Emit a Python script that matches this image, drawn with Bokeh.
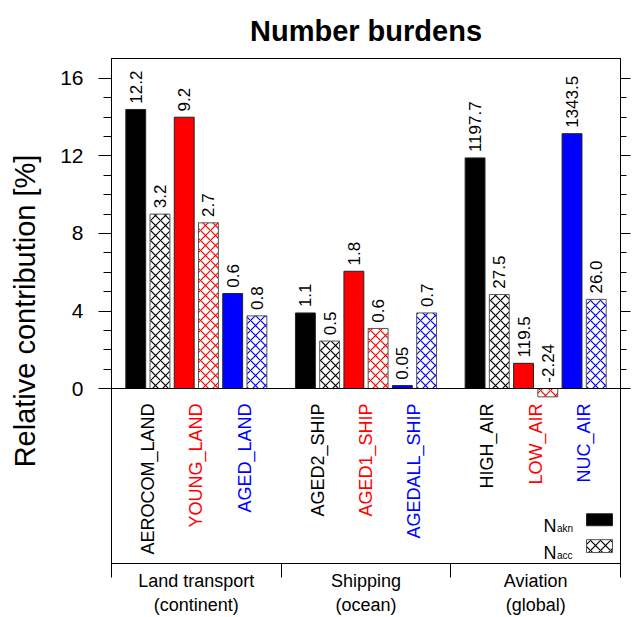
import math
from bokeh.plotting import figure
from bokeh.models import (Range1d, LinearAxis, FixedTicker, Span, Label,
                          ColumnDataSource)
from bokeh.core.properties import value
from bokeh.embed import file_html
from bokeh.resources import INLINE

# ---- data -------------------------------------------------------------
groups = ["Land transport", "Shipping", "Aviation"]
group_notes = ["(continent)", "(ocean)", "(global)"]
scenarios = ["AEROCOM_LAND", "YOUNG_LAND", "AGED_LAND",
             "AGED2_SHIP", "AGED1_SHIP", "AGEDALL_SHIP",
             "HIGH_AIR", "LOW_AIR", "NUC_AIR"]
scenario_colors = ["black", "red", "blue"] * 3

# relative contribution [%] of each scenario to the number burden
n_akn = [14.4, 14.0, 4.9, 3.9, 6.05, 0.15, 11.9, 1.3, 13.15]
n_acc = [9.0, 8.55, 3.75, 2.45, 3.1, 3.9, 4.85, -0.43, 4.6]

# numbers written above the bars
akn_labels = ["12.2", "9.2", "0.6", "1.1", "1.8", "0.05", "1197.7", "119.5", "1343.5"]
acc_labels = ["3.2", "2.7", "0.8", "0.5", "0.6", "0.7", "27.5", "-2.24", "26.0"]

y_ticks = [0, 4, 8, 12, 16]
y_minor = list(range(0, 17))

FONT = "Liberation Sans"

# ---- geometry ---------------------------------------------------------
W, H = 632, 617
L, R, T, B = 111, 12, 58, 51
Y_LO, Y_HI = -9.03, 17.03
X_LO, X_HI = 0, 21
XS = (W - L - R) / (X_HI - X_LO)
YS = (H - T - B) / (Y_HI - Y_LO)


def dx(px):
    return X_LO + (px - L) / XS


def dy(py):
    return Y_HI - (py - T) / YS


# bar slots: each group is 7 slots wide, akn/acc pairs side by side
slot = [7 * (i // 3) + 1 + 2 * (i % 3) for i in range(len(scenarios))]
x_akn = [s for s in slot]
x_acc = [s + 1 for s in slot]
x_pair = [s + 0.5 for s in slot]
group_mid = [7 * g + 3.5 for g in range(len(groups))]
group_edges = [7 * g for g in range(len(groups) + 1)]

p = figure(width=W, height=H, x_range=Range1d(X_LO, X_HI),
           y_range=Range1d(Y_LO, Y_HI), output_backend="svg",
           toolbar_location=None, x_axis_location=None, y_axis_location=None,
           min_border_left=L, min_border_right=R, min_border_top=T,
           min_border_bottom=B)
p.grid.visible = False
p.outline_line_color = "black"
p.outline_line_width = 1
p.background_fill_color = "white"
p.border_fill_color = "white"

p.title.text = "Number burdens"
p.title.align = "center"
p.title.text_font = FONT
p.title.text_font_size = "29px"
p.title.text_font_style = "bold"
p.title.text_color = "black"
p.title.standoff = 23

ytick = FixedTicker(ticks=y_ticks, minor_ticks=y_minor)

left = LinearAxis(ticker=ytick, axis_label="Relative contribution [%]")
left.major_tick_out = 13
left.major_tick_in = 0
left.minor_tick_out = 8
left.minor_tick_in = 0
left.major_label_standoff = 15
left.major_label_text_font = FONT
left.major_label_text_font_size = "21px"
left.major_label_text_color = "black"
left.axis_label_text_font = FONT
left.axis_label_text_font_size = "29px"
left.axis_label_text_font_style = "normal"
left.axis_label_text_color = "black"
left.axis_label_standoff = 16
left.axis_line_color = "black"
p.add_layout(left, "left")

right = LinearAxis(ticker=ytick)
right.major_tick_out = 10
right.major_tick_in = 0
right.minor_tick_out = 6
right.minor_tick_in = 0
right.major_label_standoff = 0
right.major_label_text_font_size = "0px"
right.major_label_overrides = {t: "" for t in y_ticks}
p.add_layout(right, "right")

top = LinearAxis(ticker=FixedTicker(ticks=[], minor_ticks=[]))
top.major_tick_out = 0
top.major_label_standoff = 0
top.major_label_text_font_size = "0px"
p.add_layout(top, "above")

# group captions sit under the frame; group boundaries are the long ticks
below = LinearAxis(ticker=FixedTicker(ticks=group_mid, minor_ticks=group_edges))
below.major_tick_out = 0
below.major_tick_in = 0
below.minor_tick_out = 14
below.minor_tick_in = 0
below.minor_tick_line_color = "black"
below.major_label_standoff = -7
below.major_label_text_font = FONT
below.major_label_text_font_size = "18px"
below.major_label_text_color = "black"
below.major_label_text_line_height = 1.2
below.major_label_overrides = {m: f"{n}\n{t}" for m, n, t in
                               zip(group_mid, groups, group_notes)}
p.add_layout(below, "below")

p.add_layout(Span(location=0, dimension="width", line_color="black",
                  line_width=1))

bw = 0.82
akn_src = ColumnDataSource(dict(x=x_akn, top=n_akn, color=scenario_colors,
                                label=akn_labels,
                                ly=[max(v, 0) + 0.3 for v in n_akn]))
acc_src = ColumnDataSource(dict(x=x_acc, top=n_acc, color=scenario_colors,
                                label=acc_labels,
                                ly=[max(v, 0) + 0.3 for v in n_acc]))

p.vbar(x="x", top="top", bottom=0, width=bw, source=akn_src,
       fill_color="color", line_color="#222222", line_width=1)
p.vbar(x="x", top="top", bottom=0, width=bw, source=acc_src,
       fill_color="white", line_color="#555555", line_width=1,
       hatch_pattern="diagonal_cross", hatch_color="color", hatch_scale=10,
       hatch_weight=1.2)

for src in (akn_src, acc_src):
    p.text(x="x", y="ly", text="label", source=src, angle=math.pi / 2,
           text_align="left", text_baseline="middle",
           text_font=value(FONT), text_font_size="17px", text_color="black")

cat_src = ColumnDataSource(dict(x=x_pair, name=scenarios,
                                color=scenario_colors))
p.text(x="x", y=dy(405), text="name", source=cat_src, angle=math.pi / 2,
       text_align="right", text_baseline="middle", text_color="color",
       text_font=value(FONT), text_font_size="18px")

# legend
p.quad(left=dx(586), right=dx(612), bottom=dy(528), top=dy(516),
       fill_color="black", line_color="#222222")
p.quad(left=dx(586), right=dx(612), bottom=dy(555), top=dy(542),
       fill_color="white", line_color="#555555",
       hatch_pattern="diagonal_cross", hatch_color="black", hatch_scale=10,
       hatch_weight=1.2)
for base, sub in ((528, "akn"), (555, "acc")):
    p.add_layout(Label(x=dx(556), y=dy(base), text="N", text_align="right",
                       text_baseline="alphabetic", text_font=FONT,
                       text_font_size="18px", text_color="black"))
    p.add_layout(Label(x=dx(556.5), y=dy(base + 3), text=sub,
                       text_align="left", text_baseline="alphabetic",
                       text_font=FONT, text_font_size="10px",
                       text_color="black"))

open("out.html", "w").write(file_html(p, INLINE))
